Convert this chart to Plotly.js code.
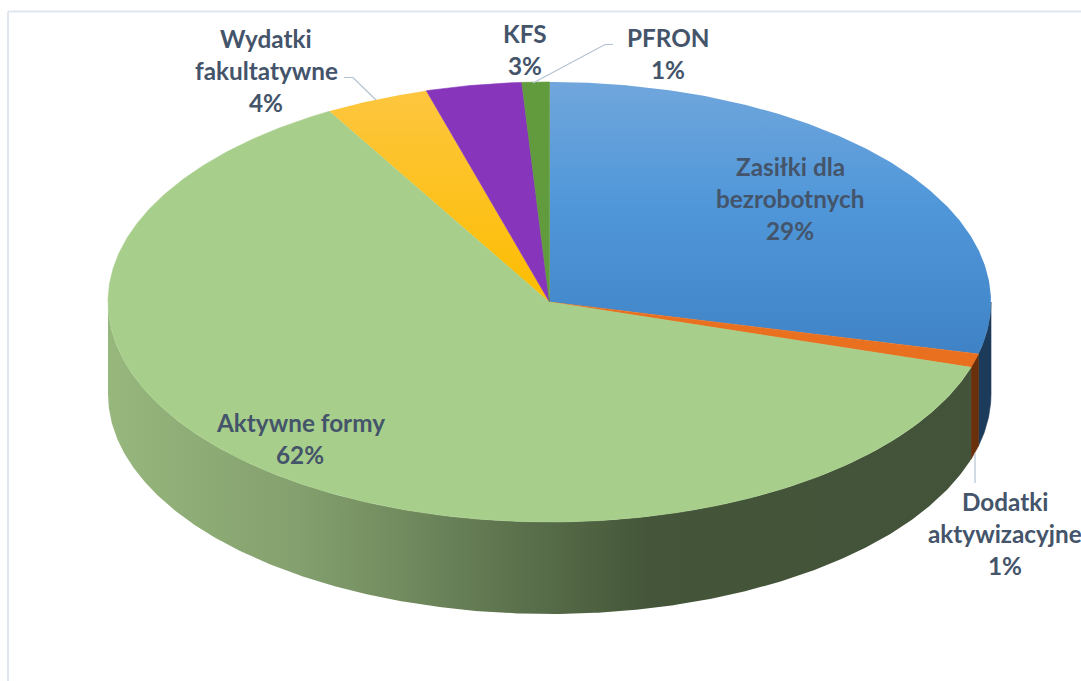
<!DOCTYPE html>
<html>
<head>
<meta charset="utf-8">
<script src="https://cdn.plot.ly/plotly-3.0.1.min.js"></script>
<style>html,body{margin:0;padding:0;background:#fff;overflow:hidden}</style>
</head>
<body>
<div id="chart" style="width:1081px;height:681px"></div>
<script>
// ---- data ----
var categories = ['Zasiłki dla bezrobotnych', 'Dodatki aktywizacyjne', 'Aktywne formy', 'Wydatki fakultatywne', 'KFS', 'PFRON'];
var shares = [28.8, 1.0, 61.9, 3.8, 3.5, 1.0];
var percentLabels = ['29%', '1%', '62%', '4%', '3%', '1%'];
var labelLines = [['Zasiłki dla', 'bezrobotnych'], ['Dodatki', 'aktywizacyjne'], ['Aktywne formy'], ['Wydatki', 'fakultatywne'], ['KFS'], ['PFRON']];

// ---- styles ----
var topColors = ['#5096d8', '#e9701f', '#a7cf8b', '#fdc020', '#8736bb', '#629a3e'];
var topGradients = [
  [[0, '#3f83c6'], [0.55, '#5097d9'], [1, '#70a6dc']],
  null, null,
  [[0, '#fdbd00'], [1, '#fdc63f']],
  null, null
];
var wallColors = ['#1c3b5b', '#6a300c', null];
var greenWallScale = [[0, '#97b77d'], [0.22, '#84a06e'], [0.34, '#728b5f'], [0.45, '#5f7650'], [0.57, '#4d6040'], [0.63, '#445539'], [1, '#43533a']];
var labelColor = '#44546a';
var labelSize = 24.3;

// ---- geometry of the tilted disc ----
var cx = 549.5, cy = 302, rx = 441.5, ry = 220, depth = 92;
var labelX = [790, 1005, 300, 266, 525, 668];
var labelY = [166, 501, 422, 38, 33, 37];
var lineGap = 32.3;

function pt(deg, dy) {
  var r = deg * Math.PI / 180;
  return [cx + rx * Math.sin(r), cy - ry * Math.cos(r) + (dy || 0)];
}
function arc(a0, a1, dy) {
  var out = [], n = Math.max(2, Math.ceil(Math.abs(a1 - a0) * 2));
  for (var i = 0; i <= n; i++) out.push(pt(a0 + (a1 - a0) * i / n, dy));
  return out;
}
var total = shares.reduce(function (a, b) { return a + b; }, 0);
var edges = [0];
shares.forEach(function (s, i) { edges.push(edges[i] + s / total * 360); });

var traces = [];
function poly(points, color, gradient, gradType, name) {
  var t = {
    type: 'scatter', mode: 'lines', fill: 'toself',
    x: points.map(function (p) { return p[0]; }),
    y: points.map(function (p) { return p[1]; }),
    line: { width: 0.6, color: color },
    fillcolor: color, name: name, hoverinfo: 'name'
  };
  if (gradient) {
    t.line = { width: 0, color: color };
    t.fillgradient = { type: gradType, colorscale: gradient };
  }
  traces.push(t);
}

// side walls: only the part of the rim facing the viewer (90..270 degrees)
[0, 1, 2].forEach(function (i) {
  var a0 = Math.max(edges[i], 90), a1 = Math.min(edges[i + 1], 270);
  var pts = arc(a0, a1, 0).concat(arc(a1, a0, depth));
  pts.push(pts[0]);
  if (wallColors[i]) poly(pts, wallColors[i], null, null, categories[i]);
  else poly(pts, '#6f8a5c', greenWallScale, 'horizontal', categories[i]);
});
// top faces
shares.forEach(function (s, i) {
  var pts = [[cx, cy]].concat(arc(edges[i], edges[i + 1], 0));
  pts.push([cx, cy]);
  poly(pts, topColors[i], topGradients[i], 'vertical', categories[i]);
});

// labels, one annotation per line for the reference's line spacing
var annotations = [];
categories.forEach(function (c, i) {
  labelLines[i].concat([percentLabels[i]]).forEach(function (txt, k) {
    annotations.push({
      x: labelX[i], y: labelY[i] + k * lineGap, xref: 'x', yref: 'y',
      text: '<b>' + txt + '</b>', showarrow: false, xanchor: 'center', yanchor: 'middle',
      font: { family: 'Lato, Carlito, sans-serif', size: labelSize, color: labelColor }
    });
  });
});

var leader = { color: '#b4c2d3', width: 1.2 };
var frame = { color: '#e0e6ef', width: 2 };
var shapes = [
  { type: 'path', path: 'M344,77.5 L353,77.5 L376,100', line: leader },
  { type: 'path', path: 'M613,44.5 L605,44.5 L533,83', line: leader },
  { type: 'path', path: 'M975,453 L975,483', line: leader },
  { type: 'line', x0: 8, x1: 1081, y0: 11.5, y1: 11.5, line: frame },
  { type: 'line', x0: 8, x1: 8, y0: 11.5, y1: 681, line: frame }
];

Plotly.newPlot('chart', traces, {
  width: 1081, height: 681,
  margin: { l: 0, r: 0, t: 0, b: 0 },
  paper_bgcolor: '#ffffff', plot_bgcolor: '#ffffff',
  showlegend: false,
  xaxis: { range: [0, 1081], visible: false, fixedrange: true },
  yaxis: { range: [681, 0], visible: false, fixedrange: true },
  annotations: annotations, shapes: shapes
}, { displayModeBar: false });
</script>
</body>
</html>
